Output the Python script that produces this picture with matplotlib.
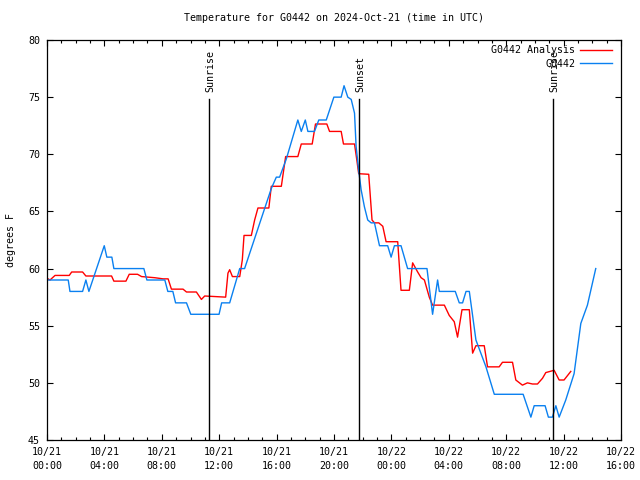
import matplotlib
matplotlib.use("Agg")
import matplotlib.pyplot as plt
from matplotlib.ticker import FixedLocator, MultipleLocator

# hours since 2024-10-21 00:00 UTC
obs_hours = [0.0, 1.48, 1.6, 2.48, 2.71, 2.92, 3.99, 4.17, 4.52, 4.66, 6.75, 6.96,
             8.21, 8.42, 8.77, 8.96, 9.72, 10.02, 11.99, 12.17, 12.73, 13.43, 13.77,
             15.63, 15.98, 16.21, 16.68, 17.48, 17.72, 18.0, 18.18, 18.64, 18.94,
             19.46, 19.99, 20.5, 20.7, 20.96, 21.2, 21.43, 21.54, 21.72, 21.89,
             22.12, 22.35, 22.59, 22.82, 23.17, 23.74, 23.98, 24.21, 24.67, 25.13,
             26.48, 26.87, 27.22, 27.34, 28.45, 28.73, 28.96, 29.2, 29.43, 29.89,
             30.59, 31.17, 33.18, 33.72, 33.95, 34.71, 34.94, 35.22, 35.46, 35.69,
             36.15, 36.73, 37.2, 37.66, 38.24]
obs_temp = [59.0, 59.0, 58.0, 58.0, 59.0, 58.0, 62.0, 61.0, 61.0, 60.0, 60.0, 59.0,
            59.0, 58.0, 58.0, 57.0, 57.0, 56.0, 56.0, 57.0, 57.0, 60.0, 60.0,
            67.0, 68.0, 68.0, 69.6, 73.0, 72.0, 73.0, 72.0, 72.0, 73.0,
            73.0, 75.0, 75.0, 76.0, 75.0, 74.8, 73.6, 70.7, 68.6, 66.9,
            65.4, 64.25, 64.0, 64.0, 62.0, 62.0, 61.0, 62.0, 62.0, 60.0,
            60.0, 56.0, 59.0, 58.0, 58.0, 57.0, 57.0, 58.0, 58.0, 53.75,
            51.4, 49.0, 49.0, 47.0, 48.0, 48.0, 47.0, 47.0, 48.0, 47.0,
            48.5, 50.8, 55.2, 56.8, 60.0]

ana_hours = [0.0, 0.21, 0.56, 1.55, 1.72, 2.48, 2.71, 4.5, 4.66, 5.5, 5.73, 6.31,
             6.59, 7.51, 8.09, 8.44, 8.67, 9.48, 9.72, 10.41, 10.76, 10.99, 12.45,
             12.61, 12.73, 12.92, 13.43, 13.61, 13.73, 14.24, 14.47, 14.7, 15.46,
             15.63, 16.33, 16.63, 17.48, 17.72, 18.48, 18.71, 19.5, 19.69, 20.5,
             20.66, 21.43, 21.59, 21.72, 22.42, 22.65, 22.82, 23.12, 23.4, 23.63,
             24.44, 24.67, 25.25, 25.48, 25.83, 26.07, 26.3, 26.64, 26.87, 27.69,
             28.03, 28.38, 28.61, 28.92, 29.43, 29.66, 29.89, 30.47, 30.7, 31.51,
             31.74, 32.44, 32.67, 33.13, 33.48, 33.83, 34.18, 34.53, 34.76, 35.34,
             35.69, 36.03, 36.5]
ana_temp = [59.15, 59.0, 59.4, 59.4, 59.7, 59.7, 59.35, 59.35, 58.9, 58.9, 59.5, 59.5,
            59.3, 59.2, 59.1, 59.1, 58.2, 58.2, 57.95, 57.95, 57.3, 57.6, 57.5,
            59.6, 59.9, 59.3, 59.3, 60.75, 62.9, 62.9, 64.25, 65.3, 65.3,
            67.2, 67.2, 69.8, 69.8, 70.9, 70.9, 72.65, 72.65, 72.0, 72.0,
            70.9, 70.9, 69.5, 68.3, 68.25, 64.25, 64.0, 64.0, 63.7, 62.35,
            62.35, 58.1, 58.1, 60.5, 59.7, 59.2, 59.0, 57.5, 56.8, 56.8,
            55.9, 55.35, 54.0, 56.4, 56.4, 52.6, 53.25, 53.25, 51.4, 51.4,
            51.8, 51.8, 50.25, 49.8, 50.0, 49.9, 49.9, 50.4, 50.9, 51.1,
            50.25, 50.25, 51.0]

sun_hours = [11.27, 21.77, 35.27]
sun_labels = ["Sunrise", "Sunset", "Sunrise"]

tick_hours = [0, 4, 8, 12, 16, 20, 24, 28, 32, 36, 40]
tick_labels = ["10/21\n00:00", "10/21\n04:00", "10/21\n08:00", "10/21\n12:00",
               "10/21\n16:00", "10/21\n20:00", "10/22\n00:00", "10/22\n04:00",
               "10/22\n08:00", "10/22\n12:00", "10/22\n16:00"]
y_ticks = [45, 50, 55, 60, 65, 70, 75, 80]

plt.rcParams['font.family'] = ['DejaVu Sans Mono']
FS = 7.2

fig = plt.figure(figsize=(6.4, 4.8), dpi=100)
ax = fig.add_axes([47/640, 1-440/480, (621-47)/640, 400/480])

ax.plot(ana_hours, ana_temp, color='#ff0000', lw=1.0, label='G0442 Analysis')
ax.plot(obs_hours, obs_temp, color='#0a80f0', lw=1.0, label='G0442')

line_top = 74.85
for h, lab in zip(sun_hours, sun_labels):
    ax.plot([h, h], [45, line_top], color='black', lw=1.0)
    ax.annotate(lab, xy=(h, line_top), xytext=(1, 5), textcoords='offset points',
                rotation=90, ha='center', va='bottom', fontsize=FS)

ax.set_xlim(0, 40)
ax.set_ylim(45, 80)
ax.xaxis.set_major_locator(FixedLocator(tick_hours))
ax.set_xticklabels(tick_labels, fontsize=FS, linespacing=1.5)
ax.xaxis.set_minor_locator(MultipleLocator(1))
ax.set_yticks(y_ticks)
ax.set_yticklabels([str(v) for v in y_ticks], fontsize=FS)
ax.tick_params(axis='both', which='major', direction='in', length=4, width=0.8,
               top=True, right=True, pad=5)
ax.tick_params(axis='x', which='minor', direction='in', length=2.2, width=0.8,
               top=True, bottom=True)
for s in ax.spines.values():
    s.set_linewidth(0.9)

ax.set_ylabel('degrees F', fontsize=FS, labelpad=9)
ax.set_title('Temperature for G0442 on 2024-Oct-21 (time in UTC)', fontsize=FS, pad=14)

leg = ax.legend(loc='upper right', frameon=False, markerfirst=False, fontsize=FS,
                handlelength=3.2, handletextpad=0.5, labelspacing=0.35,
                borderaxespad=0.3, bbox_to_anchor=(0.997, 1.004))
for t in leg.get_texts():
    t.set_ha('right')

fig.savefig('out.png', dpi=100)
